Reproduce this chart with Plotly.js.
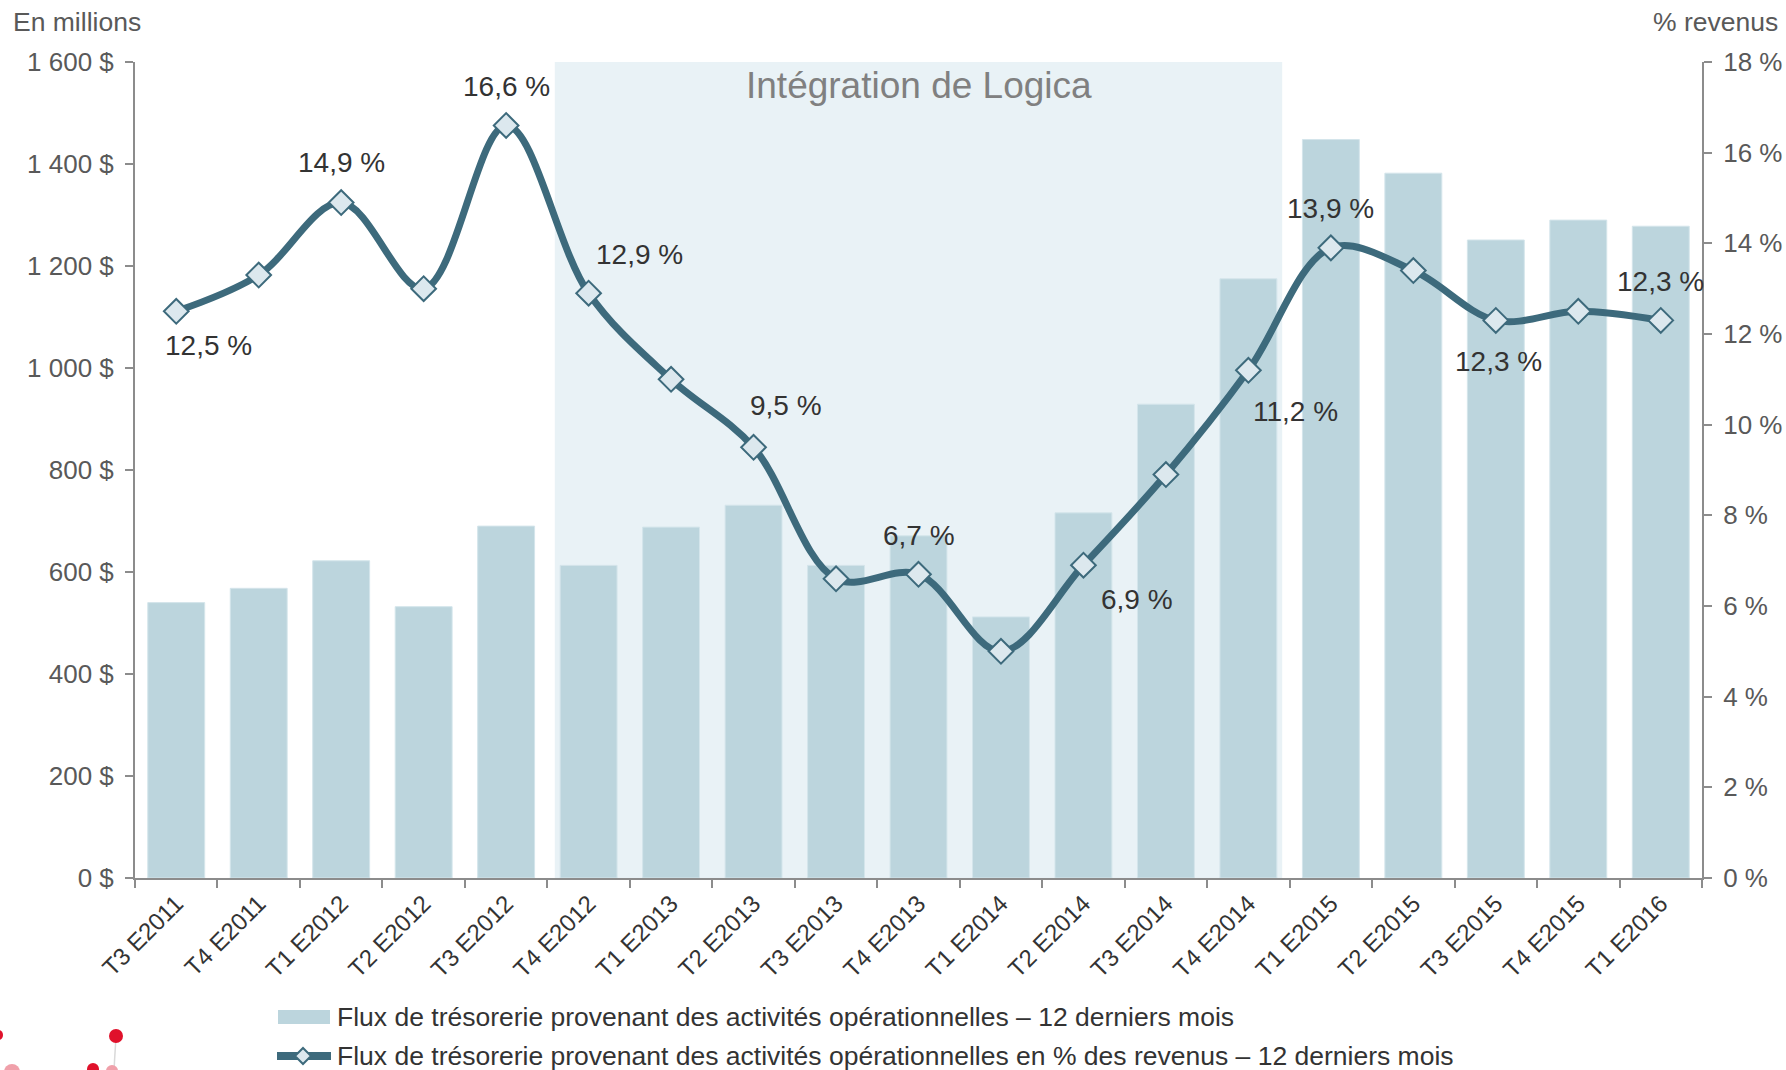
<!DOCTYPE html>
<html>
<head>
<meta charset="utf-8">
<script src="https://cdn.plot.ly/plotly-3.0.1.min.js"></script>
<style>html,body{margin:0;padding:0;background:#fff;}#chart{width:1786px;height:1070px;}</style>
</head>
<body>
<div id="chart"></div>
<script>
const categories = ['T3 E2011','T4 E2011','T1 E2012','T2 E2012','T3 E2012','T4 E2012','T1 E2013','T2 E2013','T3 E2013','T4 E2013','T1 E2014','T2 E2014','T3 E2014','T4 E2014','T1 E2015','T2 E2015','T3 E2015','T4 E2015','T1 E2016'];
const cashFlow = [540, 568, 622, 532, 690, 613, 688, 731, 613, 671, 512, 716, 929, 1175, 1448, 1382, 1251, 1290, 1278];
const pctRevenue = [12.5, 13.3, 14.9, 13.0, 16.6, 12.9, 11.0, 9.5, 6.6, 6.7, 5.0, 6.9, 8.9, 11.2, 13.9, 13.4, 12.3, 12.5, 12.3];
const leftTicks = [0, 200, 400, 600, 800, 1000, 1200, 1400, 1600];
const rightTicks = [0, 2, 4, 6, 8, 10, 12, 14, 16, 18];
const integrationLabel = 'Intégration de Logica';
const integrationFrom = 'T4 E2012';
const integrationTo = 'T4 E2014';
const barName = 'Flux de trésorerie provenant des activités opérationnelles – 12 derniers mois';
const lineName = 'Flux de trésorerie provenant des activités opérationnelles en % des revenus – 12 derniers mois';

// label placement (pixel offsets) for the labelled points: index -> [dx, dy up]
const labelPlacement = {0:[32,-34],2:[0,40],4:[0,39],5:[51,39],7:[32,42],9:[0,39],11:[54,-34],13:[47,-41],14:[0,39],16:[3,-41],18:[0,39]};

const fmtMoney = v => String(v).replace(/\B(?=(\d{3})+(?!\d))/g, ' ') + ' $';
const fmtPct = v => v.toFixed(1).replace('.', ',') + ' %';

const FONT = 'Liberation Sans, Arial, sans-serif';
const LINE = '#3d6a7c';
const BAR = '#bcd5dd';
const MFILL = '#dce8ee';

const L = 135, R = 84, T = 62, B = 192, W = 1786, H = 1070;
const pw = W - L - R, ph = H - T - B;
const px = x => (x - L) / pw;            // pixel x -> paper
const py = y => (H - B - y) / ph;        // pixel y -> paper

const traces = [
  {
    type: 'bar', x: categories, y: cashFlow, name: barName, yaxis: 'y',
    marker: {color: BAR, line: {color: '#d4e5eb', width: 1}}, showlegend: false
  },
  {
    type: 'scatter', mode: 'lines+markers', x: categories, y: pctRevenue, name: lineName, yaxis: 'y2',
    line: {color: LINE, width: 7, shape: 'spline', smoothing: 1},
    marker: {symbol: 'diamond', size: 19, color: MFILL, line: {color: LINE, width: 2}}, showlegend: false
  }
];

const annotations = Object.keys(labelPlacement).map(k => {
  const i = +k;
  return {
    x: categories[i], y: pctRevenue[i], xref: 'x', yref: 'y2',
    text: fmtPct(pctRevenue[i]), showarrow: false,
    xshift: labelPlacement[k][0], yshift: labelPlacement[k][1],
    font: {family: FONT, size: 28, color: '#333333'}
  };
});
const i0 = categories.indexOf(integrationFrom), i1 = categories.indexOf(integrationTo);
annotations.push({
  x: (i0 + i1) / 2, y: py(85), xref: 'x', yref: 'paper', yanchor: 'middle',
  text: integrationLabel, showarrow: false,
  font: {family: FONT, size: 37, color: '#808080'}
});
annotations.push({
  x: px(11), y: py(22), xref: 'paper', yref: 'paper', text: 'En millions', showarrow: false,
  xanchor: 'left', yanchor: 'middle', font: {family: FONT, size: 26.5, color: '#595959'}
});
annotations.push({
  x: px(1780), y: py(22), xref: 'paper', yref: 'paper', text: '% revenus', showarrow: false,
  xanchor: 'right', yanchor: 'middle', font: {family: FONT, size: 26.5, color: '#595959'}
});
// legend texts
annotations.push({
  x: px(335), y: py(1017), xref: 'paper', yref: 'paper', text: barName, showarrow: false,
  xanchor: 'left', yanchor: 'middle', font: {family: FONT, size: 26.5, color: '#333333'}
});
annotations.push({
  x: px(335), y: py(1056), xref: 'paper', yref: 'paper', text: lineName, showarrow: false,
  xanchor: 'left', yanchor: 'middle', font: {family: FONT, size: 26.5, color: '#333333'}
});

// legend swatches (paper coordinates)
const dcx = 303, dcy = 1056, dh = 8;
const diamondPath = 'M' + px(dcx - dh) + ',' + py(dcy) + ' L' + px(dcx) + ',' + py(dcy - dh) +
  ' L' + px(dcx + dh) + ',' + py(dcy) + ' L' + px(dcx) + ',' + py(dcy + dh) + ' Z';

const shapes = [
  {type: 'rect', layer: 'below', xref: 'x', yref: 'y',
   x0: i0 - 0.41, x1: i1 + 0.41, y0: 0, y1: 1600, fillcolor: '#e9f2f6', line: {width: 0}},
  {type: 'rect', xref: 'paper', yref: 'paper', x0: px(278), x1: px(330), y0: py(1024), y1: py(1010),
   fillcolor: BAR, line: {width: 0}},
  {type: 'line', xref: 'paper', yref: 'paper', x0: px(277), x1: px(331), y0: py(1056), y1: py(1056),
   line: {color: LINE, width: 8}},
  {type: 'path', xref: 'paper', yref: 'paper', path: diamondPath, fillcolor: MFILL, line: {color: LINE, width: 2}},
  // decorative logo fragment, bottom-left
  {type: 'line', xref: 'paper', yref: 'paper', x0: px(116), x1: px(114), y0: py(1036), y1: py(1070),
   line: {color: '#d9d9d9', width: 1.5}},
  {type: 'circle', xref: 'paper', yref: 'paper', x0: px(109), x1: px(123), y0: py(1029), y1: py(1043),
   fillcolor: '#e0112b', line: {width: 0}},
  {type: 'circle', xref: 'paper', yref: 'paper', x0: px(-5), x1: px(3), y0: py(1030), y1: py(1040),
   fillcolor: '#e0112b', line: {width: 0}},
  {type: 'circle', xref: 'paper', yref: 'paper', x0: px(87), x1: px(99), y0: py(1063), y1: py(1075),
   fillcolor: '#e0112b', line: {width: 0}},
  {type: 'circle', xref: 'paper', yref: 'paper', x0: px(106), x1: px(118), y0: py(1065), y1: py(1077),
   fillcolor: '#f0a0aa', line: {width: 0}},
  {type: 'circle', xref: 'paper', yref: 'paper', x0: px(4), x1: px(20), y0: py(1064), y1: py(1080),
   fillcolor: '#f0a0aa', line: {width: 0}}
];

const axisCommon = {
  showline: true, linecolor: '#8c8c8c', linewidth: 2,
  ticks: 'outside', ticklen: 8, tickwidth: 2, tickcolor: '#8c8c8c',
  showgrid: false, zeroline: false, fixedrange: true
};

const layout = {
  width: W, height: H,
  margin: {l: L, r: R, t: T, b: B, pad: 0, autoexpand: false},
  paper_bgcolor: '#ffffff', plot_bgcolor: '#ffffff',
  font: {family: FONT, color: '#333333'},
  bargap: 0.31,
  showlegend: false,
  xaxis: Object.assign({}, axisCommon, {
    type: 'category', range: [-0.5, categories.length - 0.5], tickson: 'boundaries',
    tickangle: -45, tickfont: {family: FONT, size: 24, color: '#333333'}
  }),
  yaxis: Object.assign({}, axisCommon, {
    range: [0, 1600], tickvals: leftTicks, ticktext: leftTicks.map(fmtMoney),
    tickfont: {family: FONT, size: 26, color: '#595959'}, ticklabelstandoff: 6
  }),
  yaxis2: Object.assign({}, axisCommon, {
    range: [0, 18], tickvals: rightTicks, ticktext: rightTicks.map(v => v + ' %'),
    overlaying: 'y', side: 'right',
    tickfont: {family: FONT, size: 26, color: '#595959'}, ticklabelstandoff: 6
  }),
  shapes: shapes,
  annotations: annotations
};

Plotly.newPlot('chart', traces, layout, {displayModeBar: false, staticPlot: true});
</script>
</body>
</html>
